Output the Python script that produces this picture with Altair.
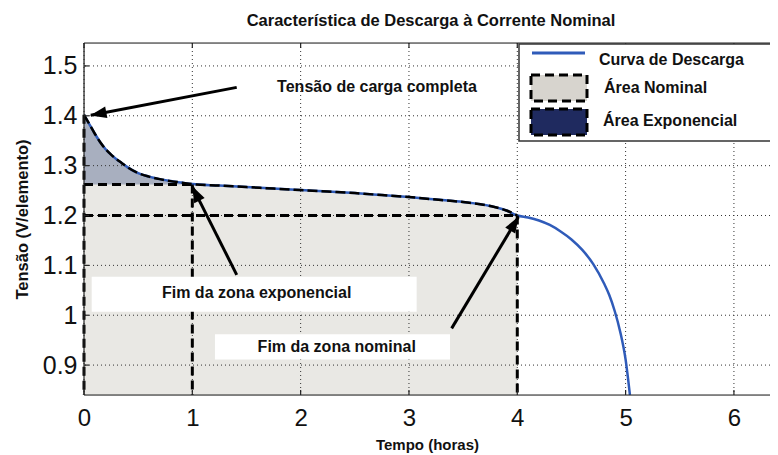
import math
import altair as alt
import pandas as pd

# ---------------- data ----------------
tempo = [0.0, 0.05, 0.1, 0.15, 0.2, 0.25, 0.3, 0.35, 0.4, 0.5, 0.6, 0.7, 0.8, 0.9, 1.0,
         1.25, 1.5, 1.75, 2.0, 2.25, 2.5, 2.75, 3.0, 3.25, 3.5, 3.75, 3.9, 4.0,
         4.1, 4.2, 4.3, 4.4, 4.5, 4.6, 4.7, 4.8, 4.85, 4.9, 4.95, 5.0, 5.04]
tensao = [1.402, 1.383, 1.364, 1.347, 1.333, 1.322, 1.313, 1.305, 1.297, 1.285,
          1.278, 1.273, 1.269, 1.266, 1.263, 1.260, 1.257, 1.254, 1.251, 1.248,
          1.245, 1.241, 1.237, 1.232, 1.227, 1.219, 1.210, 1.200, 1.196, 1.190,
          1.181, 1.168, 1.152, 1.131, 1.103, 1.064, 1.040, 1.008, 0.967, 0.911, 0.840]

x_ticks = [0, 1, 2, 3, 4, 5, 6]
y_ticks = [0.9, 1.0, 1.1, 1.2, 1.3, 1.4, 1.5]

v_exp = 1.262      # fim da zona exponencial (tensão)
t_exp = 1.0
v_nom = 1.200      # fim da zona nominal
t_nom = 4.0

# dashed outline segments (x, y, x2, y2)
seg_x = [0.0, 0.0, 1.0, 0.0, 4.0]
seg_y = [1.402, v_exp, v_exp, v_nom, v_nom]
seg_x2 = [0.0, 1.0, 1.0, 4.0, 4.0]
seg_y2 = [0.84, v_exp, 0.84, v_nom, 0.84]

# annotation boxes
box_x = [0.071, 1.209]
box_x2 = [3.071, 3.379]
box_y = [1.077, 0.962]
box_y2 = [1.007, 0.911]
ann_text = ["Fim da zona exponencial", "Fim da zona nominal", "Tensão de carga completa"]
ann_x = [1.594, 2.333, 2.705]
ann_y = [1.044, 0.9355, 1.457]

# arrows: start -> tip
arr_x = [1.41, 1.41, 3.394]
arr_y = [1.457, 1.081, 0.9736]
arr_tx = [0.062, 1.0, 4.01]
arr_ty = [1.401, 1.258, 1.197]

legend_labels = ["Curva de Descarga", "Área Nominal", "Área Exponencial"]

# ---------------- layout ----------------
W, H = 686, 352
XD = [0, 6.333]
YD = [0.84, 1.546]
sx = W / (XD[1] - XD[0])
sy = H / (YD[1] - YD[0])

FONT = "Liberation Sans"
BLUE = "#2f5bb9"

xs = alt.Scale(domain=XD, nice=False, zero=False)
ys = alt.Scale(domain=YD, nice=False, zero=False)

curve = pd.DataFrame({"t": tempo, "v": tensao})
nominal = curve[curve.t <= t_nom].copy()
nominal["base"] = YD[0]
expo = curve[curve.t <= t_exp].copy()
expo["base"] = v_exp

segs = pd.DataFrame({"x": seg_x, "y": seg_y, "x2": seg_x2, "y2": seg_y2})
boxes = pd.DataFrame({"x": box_x, "x2": box_x2, "y": box_y, "y2": box_y2})
anns = pd.DataFrame({"x": ann_x, "y": ann_y, "text": ann_text})
arrows = pd.DataFrame({"x": arr_x, "y": arr_y, "x2": arr_tx, "y2": arr_ty})

# arrowheads: angle and position a few px back from the tip
heads = []
for x0, y0, x1, y1 in zip(arr_x, arr_y, arr_tx, arr_ty):
    dx = (x1 - x0) * sx
    dy = -(y1 - y0) * sy
    L = math.hypot(dx, dy)
    ang = math.degrees(math.atan2(dx, -dy)) % 360
    back = 10 / L
    heads.append({"x": x1 - (x1 - x0) * back, "y": y1 - (y1 - y0) * back, "ang": ang})
heads = pd.DataFrame(heads)

gx = pd.DataFrame({"x": x_ticks})
gy = pd.DataFrame({"y": y_ticks})

# axis host (labels and titles)
base = alt.Chart(curve).mark_line(opacity=0).encode(
    x=alt.X("t:Q", scale=xs, title="Tempo (horas)",
            axis=alt.Axis(values=x_ticks, format="d", grid=False, ticks=False,
                          domain=False, labelFontSize=24, labelPadding=11,
                          labelFlush=False,
                          titleFontSize=15, titlePadding=7, titleFontWeight="bold",
                          labelFont=FONT, titleFont=FONT, labelColor="#111",
                          titleColor="#111")),
    y=alt.Y("v:Q", scale=ys, title="Tensão (V/elemento)",
            axis=alt.Axis(values=y_ticks, format=".1~f", grid=False, ticks=False,
                          domain=False, labelFontSize=25, labelPadding=7,
                          labelFlush=False,
                          titleFontSize=16.5, titlePadding=12, titleFontWeight="bold",
                          labelFont=FONT, titleFont=FONT, labelColor="#111",
                          titleColor="#111")),
)

area_nom = alt.Chart(nominal).mark_area(color="#e9e8e4", opacity=1).encode(
    x=alt.X("t:Q", scale=xs), y=alt.Y("v:Q", scale=ys), y2="base:Q")
area_exp = alt.Chart(expo).mark_area(color="#a8afbf", opacity=1).encode(
    x=alt.X("t:Q", scale=xs), y=alt.Y("v:Q", scale=ys), y2="base:Q")

grid_x = alt.Chart(gx).mark_rule(color="#333", strokeDash=[1, 3], strokeWidth=1).encode(
    x=alt.X("x:Q", scale=xs))
grid_y = alt.Chart(gy).mark_rule(color="#333", strokeDash=[1, 3], strokeWidth=1).encode(
    y=alt.Y("y:Q", scale=ys))

# small inward ticks (MATLAB style)
tick_b = alt.Chart(gx).mark_rule(color="#222", strokeWidth=1.2).encode(
    x=alt.X("x:Q", scale=xs), y=alt.value(H), y2=alt.value(H - 5))
tick_t = alt.Chart(gx).mark_rule(color="#222", strokeWidth=1.2).encode(
    x=alt.X("x:Q", scale=xs), y=alt.value(0), y2=alt.value(5))
tick_l = alt.Chart(gy).mark_rule(color="#222", strokeWidth=1.2).encode(
    y=alt.Y("y:Q", scale=ys), x=alt.value(0), x2=alt.value(5))

line_blue = alt.Chart(curve).mark_line(color=BLUE, strokeWidth=2.5, clip=True,
                                       interpolate="monotone").encode(
    x=alt.X("t:Q", scale=xs), y=alt.Y("v:Q", scale=ys))
line_dash = alt.Chart(nominal).mark_line(color="#000", strokeWidth=2.5,
                                         strokeDash=[10, 4],
                                         interpolate="monotone").encode(
    x=alt.X("t:Q", scale=xs), y=alt.Y("v:Q", scale=ys))

dashed = alt.Chart(segs).mark_rule(color="#000", strokeWidth=3, strokeDash=[9, 5]).encode(
    x=alt.X("x:Q", scale=xs), y=alt.Y("y:Q", scale=ys), x2="x2:Q", y2="y2:Q")

box_marks = alt.Chart(boxes).mark_rect(color="white").encode(
    x=alt.X("x:Q", scale=xs), x2="x2:Q", y=alt.Y("y:Q", scale=ys), y2="y2:Q")
ann_marks = alt.Chart(anns).mark_text(font=FONT, fontSize=16, fontWeight="bold",
                                      color="#111", align="center",
                                      baseline="middle").encode(
    x=alt.X("x:Q", scale=xs), y=alt.Y("y:Q", scale=ys), text="text:N")

arrow_lines = alt.Chart(arrows).mark_rule(color="#000", strokeWidth=3).encode(
    x=alt.X("x:Q", scale=xs), y=alt.Y("y:Q", scale=ys), x2="x2:Q", y2="y2:Q")
arrow_heads = alt.Chart(heads).mark_point(
    shape="M0,-1L-0.55,0.55L0.55,0.55Z", size=450, filled=True, color="#000",
    opacity=1).encode(
    x=alt.X("x:Q", scale=xs), y=alt.Y("y:Q", scale=ys),
    angle=alt.Angle("ang:Q", scale=None))

# plot frame (left, top, bottom; the right side runs off the picture)
one = pd.DataFrame({"a": [0]})
frame_l = alt.Chart(one).mark_rule(color="#222", strokeWidth=1.2).encode(
    x=alt.value(0), y=alt.value(0), y2=alt.value(H))
frame_t = alt.Chart(one).mark_rule(color="#222", strokeWidth=1.2).encode(
    x=alt.value(0), x2=alt.value(W + 10), y=alt.value(0))
frame_b = alt.Chart(one).mark_rule(color="#222", strokeWidth=1.2).encode(
    x=alt.value(0), x2=alt.value(W + 10), y=alt.value(H))

# legend (drawn in pixel space inside the plot)
leg_box = alt.Chart(one).mark_rect(fill="white", stroke="#333", strokeWidth=1.5).encode(
    x=alt.value(435), x2=alt.value(712), y=alt.value(1), y2=alt.value(98))
leg_line = alt.Chart(one).mark_rule(color=BLUE, strokeWidth=3).encode(
    x=alt.value(448), x2=alt.value(501), y=alt.value(10))
leg_nom = alt.Chart(one).mark_rect(fill="#d7d4ce", stroke="#000", strokeWidth=3,
                                   strokeDash=[9, 5]).encode(
    x=alt.value(447), x2=alt.value(503), y=alt.value(32), y2=alt.value(58))
leg_exp = alt.Chart(one).mark_rect(fill="#1f2a5f", stroke="#000", strokeWidth=3,
                                   strokeDash=[9, 5]).encode(
    x=alt.value(447), x2=alt.value(503), y=alt.value(66), y2=alt.value(92))
leg_df = pd.DataFrame({"text": legend_labels, "px": [515, 520, 519], "py": [17, 45, 78]})
leg_txt = alt.Chart(leg_df).mark_text(font=FONT, fontSize=16, fontWeight="bold",
                                      color="#111", align="left",
                                      baseline="middle").encode(
    x=alt.X("px:Q", scale=None), y=alt.Y("py:Q", scale=None), text="text:N")

chart = alt.layer(
    base, area_nom, area_exp, grid_x, grid_y, line_blue, line_dash, dashed,
    box_marks, ann_marks, arrow_lines, arrow_heads,
    frame_l, frame_t, frame_b, tick_b, tick_t, tick_l,
    leg_box, leg_line, leg_nom, leg_exp, leg_txt,
).properties(
    width=W, height=H,
    title=alt.TitleParams("Característica de Descarga à Corrente Nominal",
                          font=FONT, fontSize=16.5, fontWeight="bold", color="#111",
                          anchor="middle", frame="group", offset=13, dx=4),
    autosize=alt.AutoSizeParams(type="none"),
    padding={"left": 76, "top": 35, "right": 0, "bottom": 62},
).configure_view(stroke=None).configure(background="white")

chart.save("out.html", embed_options={"renderer": "svg", "actions": False})
